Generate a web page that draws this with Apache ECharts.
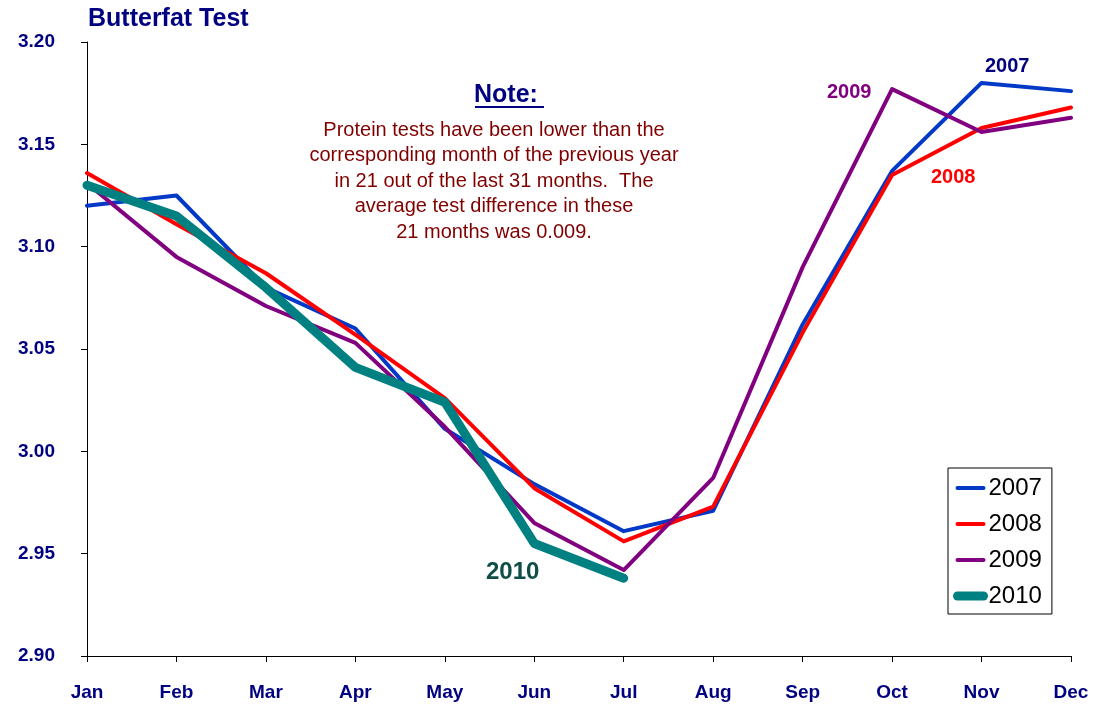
<!DOCTYPE html>
<html>
<head>
<meta charset="utf-8">
<script src="https://cdn.jsdelivr.net/npm/echarts@6/dist/echarts.min.js"></script>
<style>
  html, body { margin: 0; padding: 0; background: #fff; }
  #chart { width: 1102px; height: 705px; }
</style>
</head>
<body>
<div id="chart"></div>
<script>
// months on the x axis
var months = ["Jan", "Feb", "Mar", "Apr", "May", "Jun", "Jul", "Aug", "Sep", "Oct", "Nov", "Dec"];
// butterfat test by year
var y2007 = [3.120, 3.125, 3.080, 3.060, 3.011, 2.984, 2.961, 2.971, 3.062, 3.137, 3.180, 3.176];
var y2008 = [3.136, 3.111, 3.087, 3.057, 3.026, 2.982, 2.956, 2.973, 3.058, 3.135, 3.158, 3.168];
var y2009 = [3.131, 3.095, 3.071, 3.053, 3.012, 2.965, 2.942, 2.987, 3.090, 3.177, 3.156, 3.163];
var y2010 = [3.130, 3.115, 3.080, 3.041, 3.024, 2.955, 2.938];
var noteLines = [
  "Protein tests have been lower than the",
  "corresponding month of the previous year",
  "in 21 out of the last 31 months.  The",
  "average test difference in these",
  "21 months was 0.009."
];

var chart = echarts.init(document.getElementById("chart"));

var font = "Arial, 'Liberation Sans', sans-serif";

function line(name, data, color, width) {
  return {
    name: name,
    type: "line",
    data: data,
    symbol: "none",
    lineStyle: { color: color, width: width, cap: "round", join: "round" },
    itemStyle: { color: color }
  };
}

function label(text, x, y, color, size) {
  return {
    type: "text", x: x, y: y,
    style: { text: text, fill: color, font: "bold " + size + "px " + font, verticalAlign: "middle" }
  };
}

// annotation texts
var graphics = [
  label("Butterfat Test", 88, 19, "#000080", 25),
  label("Note:", 474, 95, "#000080", 25),
  { type: "rect", left: 475, top: 106, shape: { width: 69, height: 2 }, style: { fill: "#000080" } },
  label("2009", 827, 92, "#800080", 20),
  label("2007", 985, 66, "#000080", 20),
  label("2008", 931, 177, "#FF0000", 20),
  label("2010", 486, 572, "#0F4D47", 24)
];
noteLines.forEach(function (t, i) {
  graphics.push({
    type: "text", x: 494, y: 130 + i * 25.5,
    style: { text: t, fill: "#800000", font: "20px " + font, textAlign: "center", verticalAlign: "middle" }
  });
});

var option = {
  animation: false,
  grid: { left: 87, right: 31, top: 42, bottom: 49 },
  legend: {
    orient: "vertical",
    left: 948,
    top: 468,
    itemWidth: 26,
    itemHeight: 14,
    itemGap: 12,
    padding: [8, 10, 6, 5],
    borderColor: "#000",
    borderWidth: 1,
    icon: "inherit",
    itemStyle: { opacity: 0 },
    textStyle: { fontSize: 24, color: "#000", fontFamily: font },
    data: [
      { name: "2007", lineStyle: { width: 4 } },
      { name: "2008", lineStyle: { width: 4 } },
      { name: "2009", lineStyle: { width: 4 } },
      { name: "2010", lineStyle: { width: 9 } }
    ]
  },
  xAxis: {
    type: "category",
    data: months,
    boundaryGap: false,
    axisLine: { lineStyle: { color: "#000", width: 1 } },
    axisTick: { lineStyle: { color: "#000" }, length: 6 },
    axisLabel: { color: "#000080", fontWeight: "bold", fontSize: 19, fontFamily: font, margin: 27 },
    splitLine: { show: false }
  },
  yAxis: {
    type: "value",
    min: 2.90,
    max: 3.20,
    interval: 0.05,
    axisLine: { show: true, lineStyle: { color: "#000", width: 1 } },
    axisTick: { show: true, lineStyle: { color: "#000" }, length: 6 },
    axisLabel: {
      color: "#000080", fontWeight: "bold", fontSize: 19, fontFamily: font, margin: 32,
      formatter: function (v) { return v.toFixed(2); }
    },
    splitLine: { show: false }
  },
  graphic: graphics,
  series: [
    line("2007", y2007, "#0038C8", 4),
    line("2008", y2008, "#FF0000", 4),
    line("2009", y2009, "#800080", 4),
    line("2010", y2010, "#008080", 9)
  ]
};

chart.setOption(option);
window.addEventListener("resize", function () {
  chart.resize();
});
</script>
</body>
</html>
